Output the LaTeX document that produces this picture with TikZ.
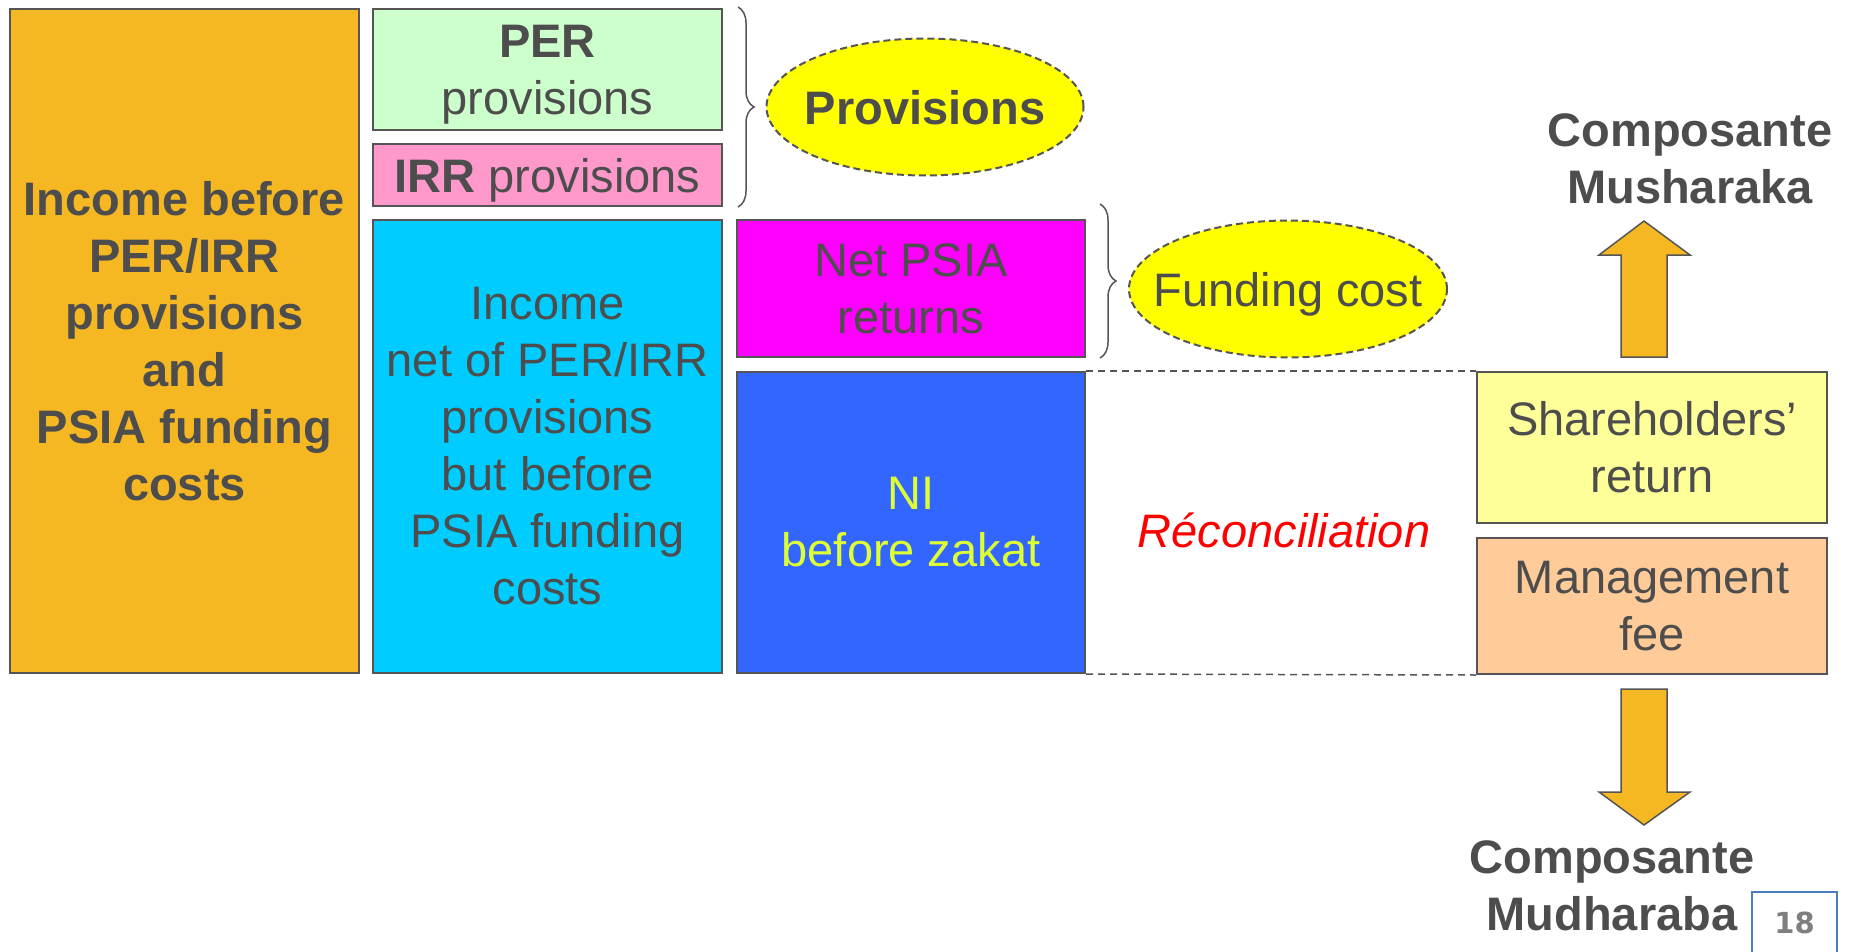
\documentclass[tikz,border=0pt]{standalone}
\usepackage{fontspec}
\setmainfont{Liberation Sans}
\newfontfamily\pgfont{DejaVu Sans}
\usetikzlibrary{shapes.geometric,decorations.pathreplacing}
\definecolor{txt}{HTML}{4D4D4D}
\definecolor{bord}{HTML}{555555}
\definecolor{orangeF}{HTML}{F5B822}
\definecolor{greenF}{HTML}{CCFFCC}
\definecolor{pinkF}{HTML}{FF99CC}
\definecolor{cyanF}{HTML}{00CCFF}
\definecolor{magF}{HTML}{FF00FF}
\definecolor{blueF}{HTML}{3366FF}
\definecolor{niCol}{HTML}{DDFF33}
\definecolor{shareF}{HTML}{FFFF99}
\definecolor{mgmtF}{HTML}{FFCC99}
\definecolor{ellF}{HTML}{FFFF00}
\definecolor{pgGray}{HTML}{7F7F7F}
\definecolor{pgBlue}{HTML}{4A7EBB}
\newcommand\myfs{\fontsize{47}{57}\selectfont}
\begin{document}
\begin{tikzpicture}[x=1pt,y=-1pt,
  box/.style={draw=bord, line width=2pt, inner sep=0pt, align=center, text=txt, font=\myfs},
  ell/.style={ellipse, draw=bord, fill=ellF, line width=2pt, dash pattern=on 7pt off 4pt, inner sep=0pt, text=txt, font=\myfs, text depth=0pt},
  lab/.style={align=center, text=txt, font=\bfseries\myfs, inner sep=0pt},
  brc/.style={draw=bord, line width=1.5pt, decorate, decoration={brace, amplitude=16pt}},
  dl/.style={draw=bord, line width=1.5pt, dash pattern=on 7pt off 5pt},
  blockarrow/.style={draw=bord, fill=orangeF, line width=1.5pt, line join=miter}
]
\useasboundingbox (0,0) rectangle (1852,952);

% left column
\node[box, fill=orangeF, minimum width=349pt, minimum height=664pt, font=\bfseries\myfs] (inc) at (184.5,341)
  {Income before\\PER/IRR\\provisions\\and\\PSIA funding\\costs};

% second column
\node[box, fill=greenF, minimum width=349pt, minimum height=121pt] (per) at (547.5,69.5)
  {{\bfseries PER}\\\raisebox{0pt}[\height][0pt]{provisions}};
\node[box, fill=pinkF, minimum width=349pt, minimum height=62pt, text depth=0pt] (irr) at (547.5,175)
  {{\bfseries IRR} provisions};
\node[box, fill=cyanF, minimum width=349pt, minimum height=453pt] (net) at (547.5,446.5)
  {Income\\net of PER/IRR\\provisions\\but before\\PSIA funding\\costs};

% third column
\node[box, fill=magF, minimum width=348pt, minimum height=137pt] (psia) at (911,288.5)
  {Net PSIA\\returns};
\node[box, fill=blueF, minimum width=348pt, minimum height=301pt, text=niCol] (ni) at (911,522.5)
  {NI\\before zakat};

% ellipses
\node[ell, minimum width=317pt, minimum height=137pt] (prov) at (925,107)
  {\makebox[0pt]{\bfseries Provisions}};
\node[ell, minimum width=318pt, minimum height=137pt] (fund) at (1288,289)
  {\makebox[0pt]{Funding cost}};

% braces
\draw[brc] ([xshift=15pt,yshift=1pt]per.north east) -- ([xshift=15pt]irr.south east);
\draw[brc] ([xshift=14pt,yshift=15pt]psia.north east) -- ([xshift=14pt]psia.south east);

% right column
\node[box, fill=shareF, minimum width=350pt, minimum height=151pt] (share) at (1652,447.5)
  {Shareholders’\\return};
\node[box, fill=mgmtF, minimum width=350pt, minimum height=136pt] (mgmt) at (1652,606)
  {Management\\fee};

% dashed reconciliation lines
\draw[dl] (ni.north east) -- (share.north west);
\draw[dl] (ni.south east) -- (mgmt.south west);
\node[font=\itshape\myfs, text=red, anchor=base, inner sep=0pt] (reco) at (1284,547) {Réconciliation};

% block arrows
\draw[blockarrow] (1621,357) -- (1621,255) -- (1599,255) -- (1644,221) -- (1690,255) -- (1667,255) -- (1667,357) -- cycle;
\draw[blockarrow] (1621,689) -- (1667,689) -- (1667,792) -- (1690,792) -- (1644,825) -- (1599,792) -- (1621,792) -- cycle;

% labels
\node[lab] (mush) at (1690,159) {Composante\\Musharaka};
\node[lab] (mudh) at (1612,885.5) {Composante\\Mudharaba};

% page number
\node[draw=pgBlue, line width=1.5pt, minimum width=85pt, minimum height=61pt, inner sep=0pt,
  text=pgGray, font=\pgfont\bfseries\fontsize{29}{34}\selectfont] (pg) at (1794.5,922.5) {18};
\end{tikzpicture}
\end{document}
